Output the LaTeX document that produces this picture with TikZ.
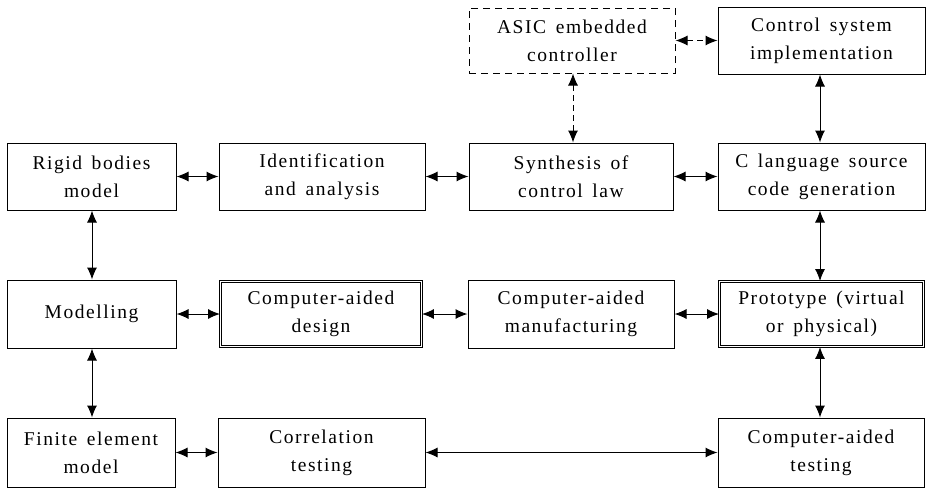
\documentclass[tikz,border=0pt]{standalone}
\usepackage{fontspec}
\setmainfont{Liberation Serif}[LetterSpace=8,WordSpace=1.5]
\usetikzlibrary{arrows.meta}
\begin{document}
\begin{tikzpicture}[x=1pt,y=-1pt,
  box/.style={draw,line width=1pt,minimum height=0pt,align=center,font=\fontsize{19.5}{28}\selectfont},
  dbox/.style={box,double,double distance=1.3pt,line width=0.9pt},
  dashbox/.style={box,dash pattern=on 7pt off 5pt},
  link/.style={line width=1pt,{Latex[length=12pt,width=10pt]}-{Latex[length=12pt,width=10pt]}},
  dlink/.style={link,dash pattern=on 6pt off 4pt}]
\useasboundingbox (0,0) rectangle (930,488);
\newcommand{\bx}[7]{\node[#1,minimum width={#4-#2},minimum height={#5-#3}] (#6) at ({(#2+#4)/2},{(#3+#5)/2}) {#7};}
\bx{dashbox}{469}{8}{675}{73}{asic}{ASIC embedded\\controller}
\bx{box}{718}{7}{925}{74}{ctrl}{Control system\\implementation}
\bx{box}{7}{143}{176}{210}{rigid}{Rigid bodies\\model}
\bx{box}{219}{143}{425}{210}{ident}{Identification\\and analysis}
\bx{box}{469}{143}{673}{210}{synth}{Synthesis of\\control law}
\bx{box}{718}{143}{925}{210}{clang}{C language source\\code generation}
\bx{box}{7}{280}{176}{348}{model}{Modelling}
\bx{dbox}{220.5}{281.5}{421.5}{346.5}{cad}{Computer-aided\\design}
\bx{box}{468}{280}{674}{348}{cam}{Computer-aided\\manufacturing}
\bx{dbox}{719.5}{281.5}{923.5}{346.5}{proto}{Prototype (virtual\\or physical)}
\bx{box}{7}{418}{175}{487}{fem}{Finite element\\model}
\bx{box}{218}{418}{425}{487}{corr}{Correlation\\testing}
\bx{box}{718}{418}{924}{487}{cat}{Computer-aided\\testing}
\draw[dlink] (asic.east) -- (ctrl.west);
\draw[dlink] (asic.south -| 573,0) -- (synth.north -| 573,0);
\draw[link] (ctrl.south -| 820,0) -- (clang.north -| 820,0);
\draw[link] (rigid.east) -- (ident.west);
\draw[link] (ident.east) -- (synth.west);
\draw[link] (synth.east) -- (clang.west);
\draw[link] (clang.south -| 820,0) -- (proto.north -| 820,0);
\draw[link] (rigid.south -| 92,0) -- (model.north -| 92,0);
\draw[link] (model.east) -- (cad.west);
\draw[link] (cad.east) -- (cam.west);
\draw[link] (cam.east) -- (proto.west);
\draw[link] (proto.south -| 820,0) -- (cat.north -| 820,0);
\draw[link] (model.south -| 92,0) -- (fem.north -| 92,0);
\draw[link] (fem.east) -- (corr.west);
\draw[link] (corr.east) -- (cat.west);
\end{tikzpicture}
\end{document}
